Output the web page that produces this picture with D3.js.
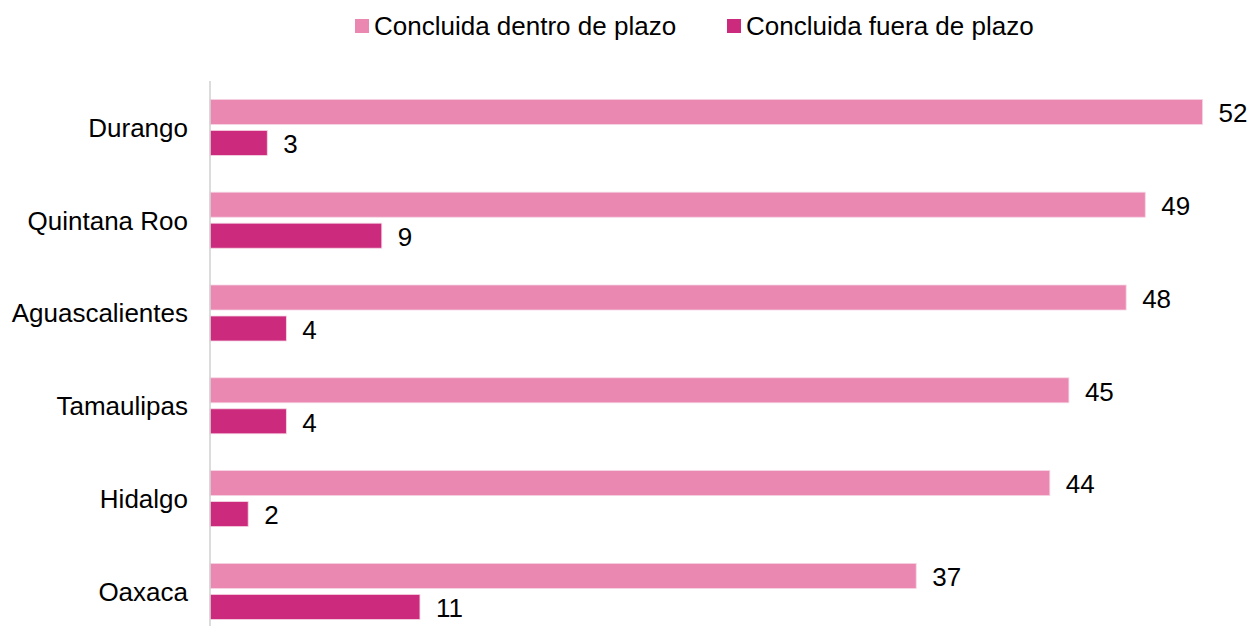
<!DOCTYPE html>
<html><head><meta charset="utf-8">
<script src="https://cdn.jsdelivr.net/npm/d3@7"></script>
<style>body{margin:0;background:#fff}svg{display:block}</style>
</head><body>
<svg id="c" width="1252" height="626"></svg>
<script>
const categories = ["Durango","Quintana Roo","Aguascalientes","Tamaulipas","Hidalgo","Oaxaca"];
const seriesNames = ["Concluida dentro de plazo","Concluida fuera de plazo"];
const dentro = [52,49,48,45,44,37];
const fuera = [3,9,4,4,2,11];
const colors = ["#EA88B2","#CB2A7D"];

const svg = d3.select("#c");
const font = "Liberation Sans, Arial, sans-serif";
const x = d3.scaleLinear().domain([0,52]).range([210,1202.5]);
const y = d3.scaleBand().domain(categories).range([81,81+6*92.8]).paddingInner(0).paddingOuter(0);
const barH = 25, gap = 6;
const groupH = barH*2+gap;
const off = (y.bandwidth()-groupH)/2;

const data = categories.map((c,i)=>({c, v:[dentro[i],fuera[i]]}));
const g = svg.append("g");
data.forEach(d=>{
  d.v.forEach((v,j)=>{
    const yy = y(d.c)+off+j*(barH+gap);
    g.append("rect").attr("x",x(0)).attr("y",yy).attr("width",x(v)-x(0)).attr("height",barH)
      .attr("fill",colors[j]).attr("stroke","#f6d4e3").attr("stroke-width",0.8);
    g.append("text").attr("x",x(v)+16).attr("y",yy+barH/2+1).attr("dy","0.36em")
      .attr("font-family",font).attr("font-size",26).attr("fill","#000").text(v);
  });
});
// category labels
const yAxis = d3.axisLeft(y).tickSize(0).tickPadding(22);
const ax = svg.append("g").attr("transform","translate(210,0)").call(yAxis);
ax.select(".domain").remove();
ax.selectAll("text").attr("font-family",font).attr("font-size",26).attr("fill","#000").attr("dy","0.36em");
svg.append("line").attr("x1",210).attr("x2",210).attr("y1",81).attr("y2",626).attr("stroke","#d0d0d0").attr("stroke-width",1.5);

// legend
const legX = [355,727];
seriesNames.forEach((n,i)=>{
  svg.append("rect").attr("x",legX[i]).attr("y",19).attr("width",14).attr("height",14).attr("fill",colors[i]);
  svg.append("text").attr("x",legX[i]+19).attr("y",35).attr("font-family",font).attr("font-size",26)
    .attr("fill","#000").text(n);
});
</script>
</body></html>
